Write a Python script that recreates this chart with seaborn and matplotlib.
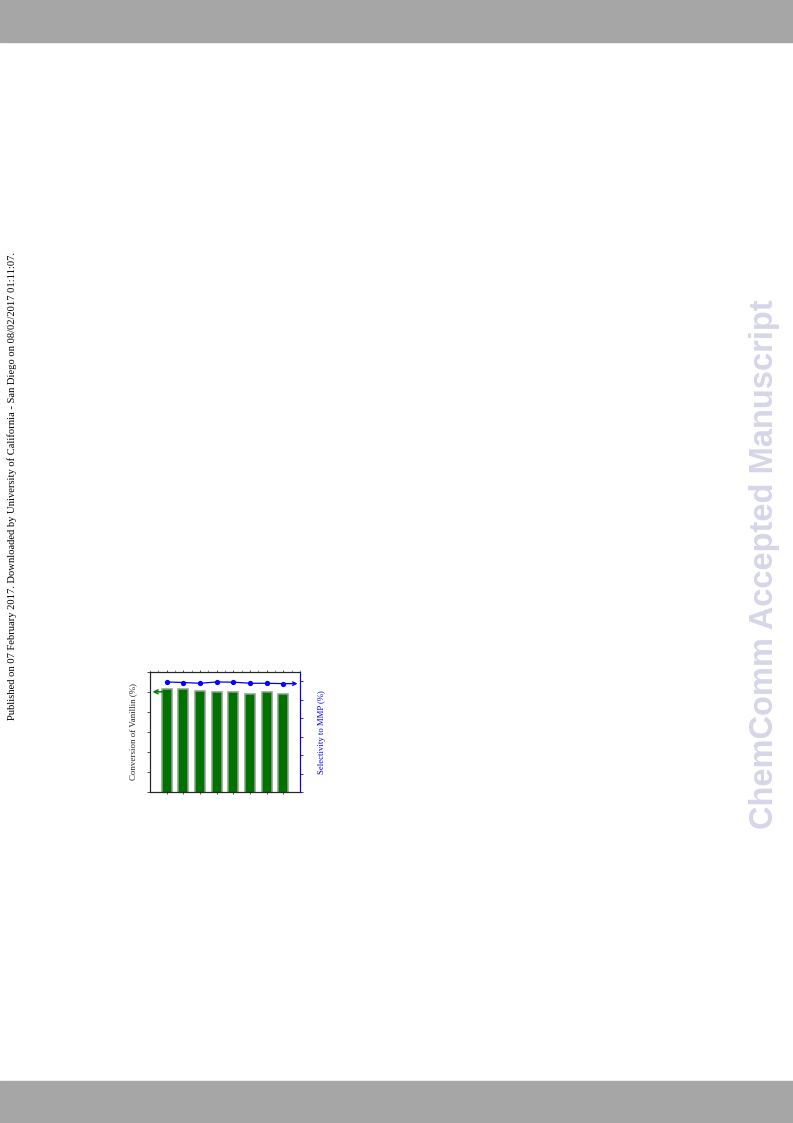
import numpy as np
import pandas as pd
import matplotlib
matplotlib.use("Agg")
import matplotlib.pyplot as plt
import seaborn as sns

# recycling runs of the catalyst
runs = [1, 2, 3, 4, 5, 6, 7, 8]
conversion = [91.7, 91.4, 90.5, 90.2, 90.0, 88.9, 89.9, 88.9]   # Conversion of Vanillin (%)
selectivity = [99.6, 99.3, 98.9, 99.6, 99.5, 98.9, 98.9, 98.7]  # Selectivity to MMP (%)

side_note = ("Published on 07 February 2017. Downloaded by University of California - "
             "San Diego on 08/02/2017 01:11:07.")
watermark = "ChemComm Accepted Manuscript"

df = pd.DataFrame({"run": runs, "conversion": conversion, "selectivity": selectivity})

sns.set_style("ticks")
plt.rcParams["font.family"] = ["Liberation Serif", "DejaVu Serif"]

fig = plt.figure(figsize=(7.93, 11.23), dpi=100)

# page furniture: grey bands, side note, watermark
fig.patches.append(plt.Rectangle((0, 1 - 42 / 1123), 1, 42 / 1123, transform=fig.transFigure,
                                 color="#a6a6a6", zorder=0))
fig.patches.append(plt.Rectangle((0, 0), 1, 42 / 1123, transform=fig.transFigure,
                                 color="#a6a6a6", zorder=0))
fig.text(12 / 793, 1 - 486 / 1123, side_note, rotation=90, ha="center", va="center",
         fontsize=7.6, color="black")
fig.text(765 / 793, 1 - 564 / 1123, watermark, rotation=90, ha="center", va="center",
         fontsize=23.5, fontweight="bold", color="#d6d6e8",
         family=["Liberation Sans", "DejaVu Sans"])

# chart
ax = fig.add_axes([150 / 793, 1 - 792 / 1123, 150 / 793, 120 / 1123])
sns.barplot(data=df, x="run", y="conversion", native_scale=True, width=0.6,
            color="#007200", saturation=1, edgecolor="#8aa08a", linewidth=1.1, ax=ax)
ax.set_xlim(0, 9)
ax.set_ylim(40, 100)
ax.set_yticks(np.arange(40, 101, 10))
ax.set_xticks(runs)
ax.set_xticks(np.arange(0, 9.01, 0.5), minor=True)
ax.tick_params(axis="both", which="both", labelleft=False, labelbottom=False,
               length=2, width=0.6, color="#333333")
ax.tick_params(axis="x", which="minor", top=True, bottom=False, length=1.5, color="#777777")
ax.tick_params(axis="x", which="major", top=True, length=1.5)
ax.set_xlabel("")
ax.set_ylabel("Conversion of Vanillin (%)", fontsize=6.4, labelpad=7.5)
for s in ax.spines.values():
    s.set_linewidth(0.8)
    s.set_color("#333333")

ax2 = ax.twinx()
sns.lineplot(data=df, x="run", y="selectivity", color="#0000ff", marker="o",
             markersize=3.8, markeredgewidth=0, linewidth=0.9, ax=ax2)
ax2.set_ylim(40, 105)
ax2.set_yticks(np.arange(40, 101, 10))
ax2.tick_params(axis="y", labelright=False, length=2, width=0.6, color="#0000ff")
ax2.spines["right"].set_color("#0000ff")
ax2.spines["right"].set_linewidth(0.8)
ax2.set_ylabel("Selectivity to MMP (%)", fontsize=6.2, color="#0000ff", labelpad=11)
ax2.set_xlabel("")

# direction arrows pointing at each axis
ax.annotate("", xy=(0.15, conversion[0] - 1.6), xytext=(0.75, conversion[0] - 1.6),
            arrowprops=dict(arrowstyle="->", color="#008000", lw=1.1, mutation_scale=7,
                            shrinkA=0, shrinkB=0))
ax2.annotate("", xy=(8.85, selectivity[-1]), xytext=(runs[-1], selectivity[-1]),
             arrowprops=dict(arrowstyle="->", color="#0000ff", lw=1.0, mutation_scale=6,
                             shrinkA=0, shrinkB=0))

fig.savefig("out.png", dpi=100)
